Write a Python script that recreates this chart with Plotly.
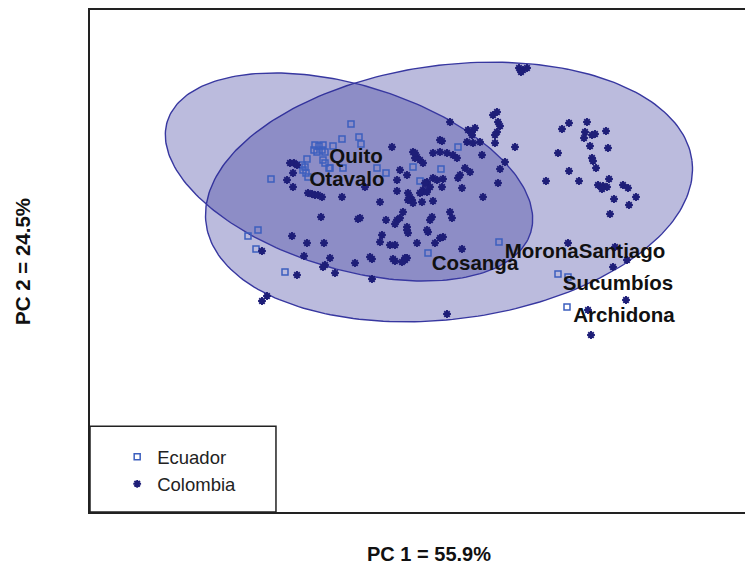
import numpy as np
import plotly.graph_objects as go

# ---- data (PC scores, arbitrary units) ----
col_pc1 = [169, 162, 187, 185, 192, 195, 184, 206, 190, 208, 158, 192, 193, 196, 169, 146, 179, 209, 198, 203,
           207, 202, 223, 228, 236, 214, 229, 210,
           119, 123, 127, 121,
           50, 93, 97, 98, 100, 97, 95, 68, 72, 75, 72, 40, 67, 73, 80, 95, 115, 13, 17, 20, 15, 33, 40, 47, 53, 57,
           82, 105, 65, 70, 100, 27, 33, 30, 37, 43, 42, 58, 60, 62, 98, 7, 23, 20, 8, 12, 13, 22, 33, 83, 3, 32, 30,
           50, 52, 7, 8, 28, 43, 40, 17, 35, 62, 5, 2, 168, 213,
           215, 227, 226, 188, 191,
           -138, -108, -93, -76, -96, -70, -75, -77, -65, -103, -45, -28, -28, -133, -138, -18, -20, -10, -5, -7, 7,
           7, 47,
           -8, -110, -106, -107, -113, -107, -92, -88, -85, -82, -78, -58, -35, 0, -3, -3, -20, 15, 23, 42, 25, 22,
           27, 10, 8, -79, -42, -40, -14, -3, -5, 0, 27, -30, -5, 5, -103]
col_pc2 = [127, 121, 128, 118, 115, 116, 112, 119, 104, 102, 97, 92, 89, 82, 79, 69, 69, 71, 65, 64,
           63, 61, 65, 62, 53, 51, 45, 36,
           182, 180, 182, 178,
           128, 135, 138, 128, 124, 118, 115, 120, 118, 122, 115, 110, 108, 107, 108, 107, 103, 98, 93, 90, 92, 97,
           98, 97, 95, 92, 95, 88, 82, 78, 81, 68, 72, 63, 70, 71, 63, 72, 75, 62, 67, 75, 60, 57, 57, 50, 47, 48,
           49, 53, 38, 33, 30, 38, 32, 23, 17, 18, 13, 12, 7, 7, 1, -10, -12, 7, -17,
           3, -10, -50, -60, -85,
           -1, 14, 7, 7, -6, -8, -15, -17, -23, -25, -13, -9, -29, -46, -51, 15, 8, 5, 5, -9, -8,
           20, -64,
           103, 87, 87, 77, 70, 63, 57, 56, 55, 55, 53, 53, 63, 80, 70, 59, 48, 97, 87, 109, 67, 58,
           58, 53, 50, 33, 31, 32, 30, 30, 26, 32, 20, -7, -11, -8, 85]

ecu_pc1 = [-49, -58, -41, -39, -67, -85, -81, -77, -86, -83, -78, -75, -93, -77, -75, -71, -57, -70, -98, -95,
           -97, -94, -92, -23, -14, -129, 13, 41, 58, 20, 99, 28, 158, 168, 167, -152, -142, -144, -115]
ecu_pc2 = [126, 111, 113, 106, 104, 105, 104, 105, 100, 98, 100, 98, 91, 90, 87, 82, 82, 82, 85, 83,
           80, 77, 73, 82, 77, 71, 83, 81, 103, 69, 8, -3, -24, -27, -57, 14, 20, 1, -22]

pop_names = ["Quito", "Otavalo", "Cosanga", "MoronaSantiago", "Sucumbíos", "Archidona"]
pop_pc1 = [-44, -53, 75, 185, 218, 224]
pop_pc2 = [92, 69, -15, -3, -35, -67]

# ellipse parameters: centre, semi-axes, angle (deg)
ell_col = dict(cx=49, cy=58, a=245, b=127, ang=7.4)
ell_ecu = dict(cx=-51, cy=73, a=190, b=92, ang=-17)

x_title = "PC 1 = 55.9%"
y_title = "PC 2 = 24.5%"


def ellipse(cx, cy, a, b, ang):
    t = np.linspace(0, 2 * np.pi, 241)
    th = np.deg2rad(ang)
    x = cx + a * np.cos(t) * np.cos(th) - b * np.sin(t) * np.sin(th)
    y = cy + a * np.cos(t) * np.sin(th) + b * np.sin(t) * np.cos(th)
    return x, y


FILL = "rgba(45,45,150,0.32)"
EDGE = "rgb(55,55,160)"
FONT = "Liberation Sans, Arial, sans-serif"

fig = go.Figure()
for e in (ell_col, ell_ecu):
    ex, ey = ellipse(**e)
    fig.add_trace(go.Scatter(x=ex, y=ey, mode="lines", fill="toself", fillcolor=FILL,
                             line=dict(color=EDGE, width=1.4), showlegend=False, hoverinfo="skip"))

fig.add_trace(go.Scatter(x=ecu_pc1, y=ecu_pc2, mode="markers", name="Ecuador",
                         marker=dict(symbol="square-open", size=6, color="rgb(60,95,190)",
                                     line=dict(width=1.5))))
fig.add_trace(go.Scatter(x=col_pc1, y=col_pc2, mode="markers", name="Colombia",
                         marker=dict(symbol="asterisk-open", size=6.5, color="rgb(30,30,120)",
                                     line=dict(width=1.9, color="rgb(30,30,120)"))))
fig.add_trace(go.Scatter(x=pop_pc1, y=pop_pc2, mode="text", text=pop_names,
                         textposition="middle center",
                         textfont=dict(family=FONT, size=20.5, color="#111111", weight="bold"),
                         showlegend=False, hoverinfo="skip"))

fig.update_layout(
    width=745, height=558,
    margin=dict(l=82, r=0, t=2, b=54),
    paper_bgcolor="white", plot_bgcolor="white",
    font=dict(family=FONT),
    xaxis=dict(range=[-310, 353], showgrid=False, zeroline=False, showticklabels=False, ticks="",
               showline=True, mirror=True, linecolor="#222222", linewidth=1.5),
    yaxis=dict(range=[-262, 240], showgrid=False, zeroline=False, showticklabels=False, ticks="",
               showline=True, mirror=False, linecolor="#222222", linewidth=1.5),
    legend=dict(x=0.041, y=0.147, xanchor="left", yanchor="top", bgcolor="rgba(0,0,0,0)",
                font=dict(family=FONT, size=18.5, color="#222222"), tracegroupgap=0),
    shapes=[dict(type="rect", xref="paper", yref="paper", x0=0, x1=0.2805, y0=0, y1=0.171,
                 line=dict(color="#222222", width=1.5), fillcolor="rgba(0,0,0,0)")],
    annotations=[
        dict(text=x_title, xref="paper", yref="paper", x=0.511, y=-0.083, showarrow=False,
             font=dict(family=FONT, size=20, color="#111111", weight="bold"),
             xanchor="center", yanchor="middle", borderpad=0),
        dict(text=y_title, xref="paper", yref="paper", x=-0.1026, y=0.5, showarrow=False,
             textangle=-90, font=dict(family=FONT, size=20.5, color="#111111", weight="bold"),
             xanchor="center", yanchor="middle"),
    ],
)

fig.write_html("out.html")
